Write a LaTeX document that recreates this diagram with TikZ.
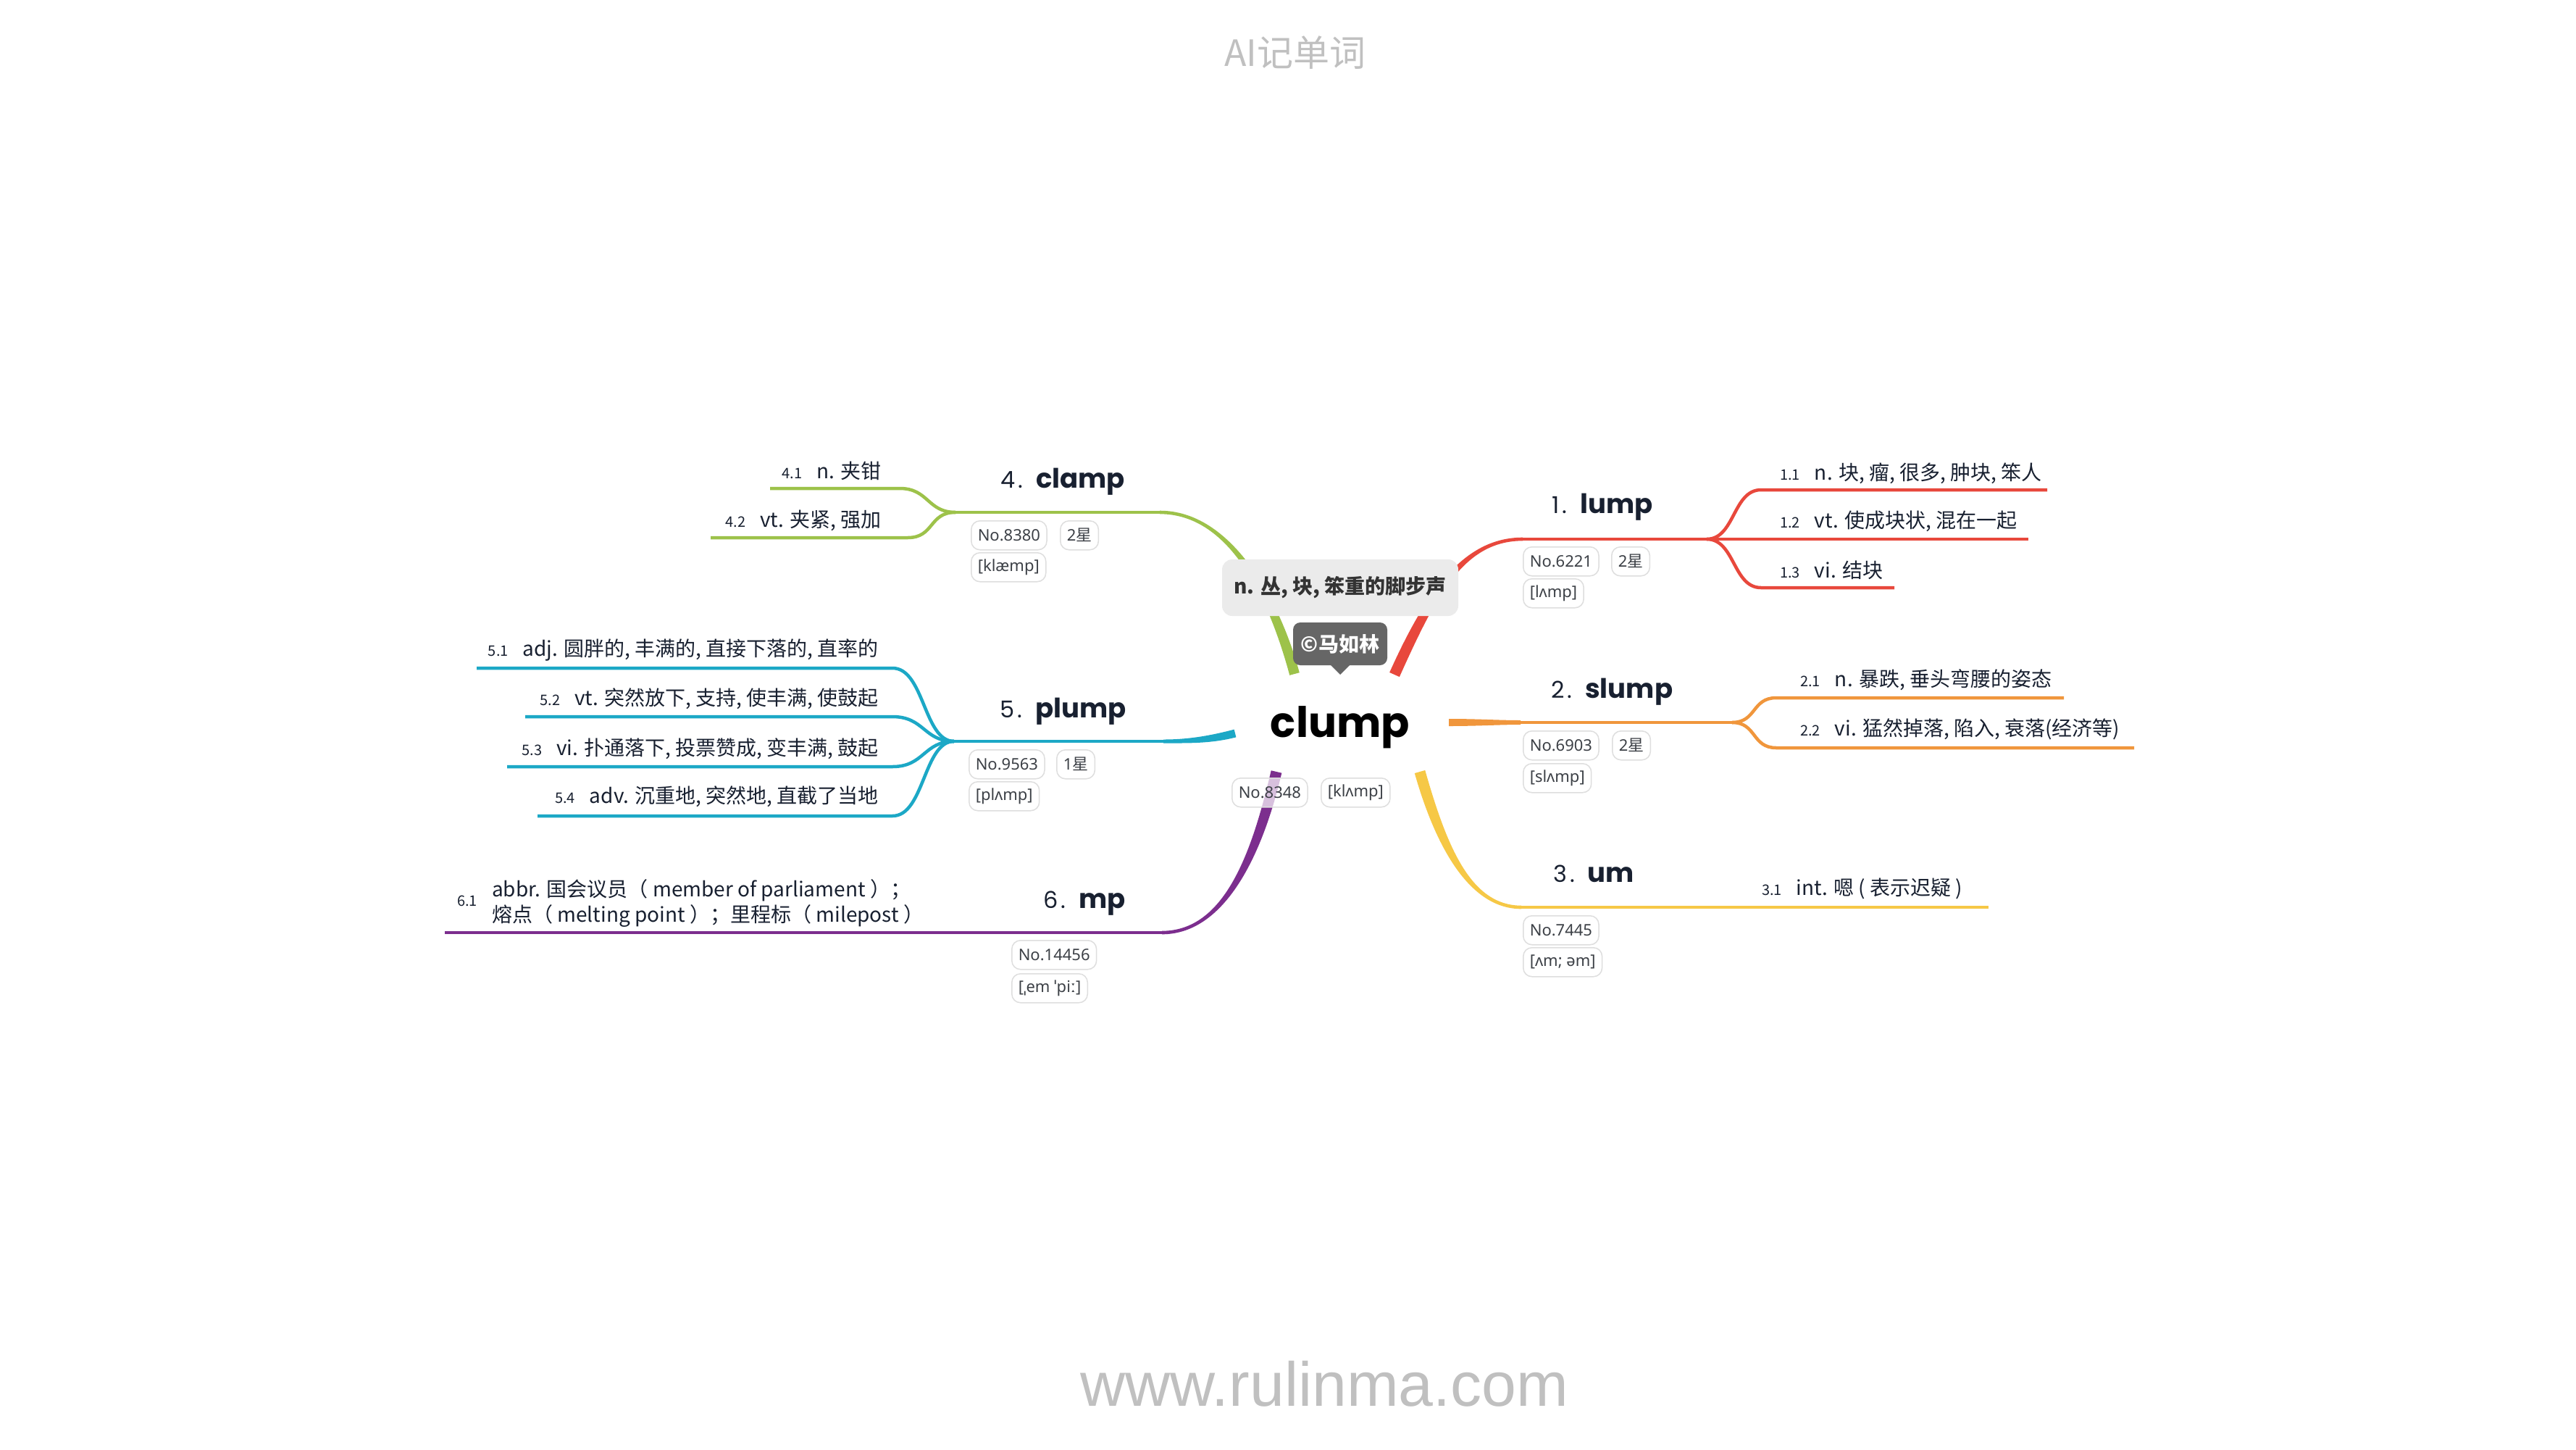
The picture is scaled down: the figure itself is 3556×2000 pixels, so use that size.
\documentclass[tikz,border=0pt]{standalone}
\usepackage{fontspec}
\setmainfont{Noto Sans CJK SC}
\newfontfamily\cjk{Noto Sans CJK SC}
\newfontfamily\pop{Poppins}
\newfontfamily\pillf{Noto Sans}
\newfontfamily\libs{Liberation Sans}
\usetikzlibrary{calc}
\definecolor{cred}{RGB}{232,72,60}
\definecolor{corange}{RGB}{240,150,60}
\definecolor{cyellow}{RGB}{246,200,70}
\definecolor{cgreen}{RGB}{157,194,74}
\definecolor{ccyan}{RGB}{28,168,198}
\definecolor{cpurple}{RGB}{124,46,142}
\definecolor{navy}{RGB}{24,32,48}
\definecolor{pillline}{RGB}{222,222,222}
\definecolor{pilltext}{RGB}{60,64,70}
\definecolor{defbg}{RGB}{235,235,235}
\definecolor{callbg}{RGB}{102,102,102}
\definecolor{wmark}{RGB}{192,192,192}
\newcommand\tapcon[7]{%
  \fill[#7] ($(#1)!#5!90:(#2)$) .. controls ($(#2)!#5!-90:(#1)$) and ($(#3)!#6!90:(#4)$) .. ($(#4)!#6!-90:(#3)$)
   -- ($(#4)!#6!90:(#3)$) .. controls ($(#3)!#6!-90:(#4)$) and ($(#2)!#5!90:(#1)$) .. ($(#1)!#5!-90:(#2)$) -- cycle;}
\newcommand\subnum[1]{{\fontsize{20pt}{22pt}\selectfont #1}\hspace{20pt}}
\newcommand\brnum[1]{{\pop\mdseries\fontsize{32pt}{34pt}\selectfont #1\hspace{4pt}.}\hspace{18pt}}
\tikzset{
  pillbox/.style={draw=pillline, line width=1.5pt, fill=white, rounded corners=12pt,
    minimum height=40pt, inner xsep=9pt, inner ysep=0pt, anchor=north west,
    font=\pillf\fontsize{22pt}{24pt}\selectfont, text=pilltext},
  subtext/.style={inner sep=0pt, text=navy, font=\cjk\fontsize{28pt}{32pt}\selectfont},
  ttl/.style={inner sep=0pt, text=navy, font=\pop\bfseries\fontsize{37pt}{40pt}\selectfont},
  uline/.style={line width=4.5pt},
}
\begin{document}
\begin{tikzpicture}[x=1pt,y=-1pt]
\fill[white] (0,0) rectangle (3556,2000);
\useasboundingbox (0,0) rectangle (3556,2000);

% watermark texts
\node[text=wmark, font=\cjk\fontsize{50pt}{54pt}\selectfont, inner sep=0pt] (title) at (1788,73) {AI记单词};
\node[text=wmark, font=\libs\fontsize{86pt}{90pt}\selectfont, inner sep=0pt, anchor=base] (footer) at (1828,1940) {www.rulinma.com};

% connector coordinates
\coordinate (r0) at (1925,931); \coordinate (r1) at (1975,820); \coordinate (r2) at (2020,744); \coordinate (r3) at (2102,744);
\coordinate (o0) at (2000,997); \coordinate (o1) at (2040,997); \coordinate (o2) at (2070,997); \coordinate (o3) at (2099,997);
\coordinate (yl0) at (1960,1065); \coordinate (yl1) at (1990,1170); \coordinate (yl2) at (2030,1252); \coordinate (yl3) at (2100,1252);
\coordinate (g0) at (1787,930); \coordinate (g1) at (1760,830); \coordinate (g2) at (1700,707); \coordinate (g3) at (1601,707);
\coordinate (c0) at (1705,1012); \coordinate (c1) at (1670,1021); \coordinate (c2) at (1640,1023); \coordinate (c3) at (1606,1023);
\coordinate (m0) at (1762,1065); \coordinate (m1) at (1735,1180); \coordinate (m2) at (1690,1287); \coordinate (m3) at (1604,1287);

\tapcon{r0}{r1}{r2}{r3}{7.5pt}{2.3pt}{cred}
\tapcon{o0}{o1}{o2}{o3}{5pt}{3pt}{corange}
\tapcon{yl0}{yl1}{yl2}{yl3}{7.5pt}{2.3pt}{cyellow}
\tapcon{g0}{g1}{g2}{g3}{7pt}{2.3pt}{cgreen}
\tapcon{c0}{c1}{c2}{c3}{5.5pt}{2.5pt}{ccyan}
\tapcon{m0}{m1}{m2}{m3}{7.5pt}{2.3pt}{cpurple}

% branch 1 (red)
\coordinate (j1) at (2356,744);
\coordinate (e11) at (2826,676); \coordinate (e12) at (2800,744); \coordinate (e13) at (2615,811);
\draw[uline,cred] (r3) -- (e12);
\draw[uline,cred] (j1) .. controls (2395,744) and (2392,676) .. (2431,676) -- (e11);
\draw[uline,cred] (j1) .. controls (2395,744) and (2392,811) .. (2431,811) -- (e13);

% branch 2 (orange)
\coordinate (j2) at (2391,997);
\coordinate (e21) at (2849,963); \coordinate (e22) at (2946,1032);
\draw[uline,corange] (o3) -- (j2);
\draw[uline,corange] (j2) .. controls (2425,997) and (2418,963) .. (2452,963) -- (e21);
\draw[uline,corange] (j2) .. controls (2425,997) and (2418,1032) .. (2452,1032) -- (e22);

% branch 3 (yellow)
\coordinate (e31) at (2745,1252);
\draw[uline,cyellow] (yl3) -- (e31);

% branch 4 (green)
\coordinate (j4) at (1319,707);
\coordinate (e41) at (1063,674); \coordinate (e42) at (981,742);
\draw[uline,cgreen] (g3) -- (j4);
\draw[uline,cgreen] (j4) .. controls (1280,707) and (1282,674) .. (1242,674) -- (e41);
\draw[uline,cgreen] (j4) .. controls (1282,707) and (1290,742) .. (1253,742) -- (e42);

% branch 5 (cyan)
\coordinate (j5) at (1317,1023);
\coordinate (e51) at (658,922); \coordinate (e52) at (725,989); \coordinate (e53) at (700,1058); \coordinate (e54) at (742,1126);
\draw[uline,ccyan] (c3) -- (j5);
\draw[uline,ccyan] (j5) .. controls (1275,1023) and (1276,922) .. (1232,922) -- (e51);
\draw[uline,ccyan] (j5) .. controls (1275,1023) and (1276,989) .. (1232,989) -- (e52);
\draw[uline,ccyan] (j5) .. controls (1275,1023) and (1276,1058) .. (1232,1058) -- (e53);
\draw[uline,ccyan] (j5) .. controls (1275,1023) and (1276,1126) .. (1232,1126) -- (e54);

% branch 6 (purple)
\coordinate (e61) at (614,1287);
\draw[uline,cpurple] (m3) -- (e61);

% central topic
\node[inner sep=0pt, text=black, font=\pop\bfseries\fontsize{58pt}{60pt}\selectfont, anchor=base] (root) at (1850,1017) {clump};
\node[fill=defbg, rounded corners=14pt, minimum width=326pt, minimum height=78pt, inner sep=0pt,
      text=black!80, font=\cjk\bfseries\fontsize{28pt}{30pt}\selectfont] (def) at (1850,811) {n. 丛, 块, 笨重的脚步声};
\node[fill=callbg, rounded corners=10pt, minimum width=130pt, minimum height=59pt, inner sep=0pt,
      text=white, font=\cjk\bfseries\fontsize{28pt}{30pt}\selectfont] (call) at (1850,888.5) {©马如林};
\coordinate (tipl) at (1836,917); \coordinate (tipr) at (1864,917); \coordinate (tip) at (1850,931);
\fill[callbg] (tipl) -- (tip) -- (tipr) -- cycle;
\node[pillbox, fill opacity=0.7, text opacity=1] (pc1) at (1700,1073) {No.8348};
\node[pillbox] (pc2) at (1823,1073) {[klʌmp]};

% branch titles
\node[ttl, anchor=base west] (t1) at (2142,708) {\brnum{1}lump};
\node[ttl, anchor=base west] (t2) at (2141,963) {\brnum{2}slump};
\node[ttl, anchor=base west] (t3) at (2144,1217) {\brnum{3}um};
\node[ttl, anchor=base east] (t4) at (1553,673) {\brnum{4}clamp};
\node[ttl, anchor=base east] (t5) at (1555,990) {\brnum{5}plump};
\node[ttl, anchor=base east] (t6) at (1554,1253) {\brnum{6}mp};

% pills
\node[pillbox] (p1a) at (2102,754) {No.6221};
\node[pillbox] (p1b) at (2224,754) {2{\cjk 星}\hspace{22pt}};
\node[pillbox] (p1c) at (2102,798) {[lʌmp]};
\node[pillbox] (p2a) at (2102,1008) {No.6903};
\node[pillbox] (p2b) at (2225,1008) {2{\cjk 星}\hspace{22pt}};
\node[pillbox] (p2c) at (2102,1053) {[slʌmp]};
\node[pillbox] (p3a) at (2102,1263) {No.7445};
\node[pillbox] (p3c) at (2102,1307) {[ʌm; əm]};
\node[pillbox] (p4a) at (1340,718) {No.8380};
\node[pillbox] (p4b) at (1463,718) {2{\cjk 星}\hspace{22pt}};
\node[pillbox] (p4c) at (1340,762) {[klæmp]};
\node[pillbox] (p5a) at (1337,1034) {No.9563};
\node[pillbox] (p5b) at (1458,1034) {1{\cjk 星}\hspace{22pt}};
\node[pillbox] (p5c) at (1337,1078) {[plʌmp]};
\node[pillbox] (p6a) at (1396,1297) {No.14456};
\node[pillbox] (p6c) at (1396,1343) {[ˌem ˈpiː]};

% sub items
\node[subtext, anchor=base west] (s11) at (2457,662) {\subnum{1.1}n. 块, 瘤, 很多, 肿块, 笨人};
\node[subtext, anchor=base west] (s12) at (2457,728) {\subnum{1.2}vt. 使成块状, 混在一起};
\node[subtext, anchor=base west] (s13) at (2457,797) {\subnum{1.3}vi. 结块};
\node[subtext, anchor=base west] (s21) at (2485,947) {\subnum{2.1}n. 暴跌, 垂头弯腰的姿态};
\node[subtext, anchor=base west] (s22) at (2485,1015) {\subnum{2.2}vi. 猛然掉落, 陷入, 衰落(经济等)};
\node[subtext, anchor=base west] (s31) at (2432,1235) {\subnum{3.1}int. 嗯 ( 表示迟疑 )};
\node[subtext, anchor=base east] (s41) at (1217,660) {\subnum{4.1}n. 夹钳};
\node[subtext, anchor=base east] (s42) at (1217,727) {\subnum{4.2}vt. 夹紧, 强加};
\node[subtext, anchor=base east] (s51) at (1213,905) {\subnum{5.1}adj. 圆胖的, 丰满的, 直接下落的, 直率的};
\node[subtext, anchor=base east] (s52) at (1213,973) {\subnum{5.2}vt. 突然放下, 支持, 使丰满, 使鼓起};
\node[subtext, anchor=base east] (s53) at (1213,1042) {\subnum{5.3}vi. 扑通落下, 投票赞成, 变丰满, 鼓起};
\node[subtext, anchor=base east] (s54) at (1213,1108) {\subnum{5.4}adv. 沉重地, 突然地, 直截了当地};
\node[subtext, anchor=base west, font=\cjk\fontsize{20pt}{22pt}\selectfont] (s61n) at (631,1250) {6.1};
\node[subtext, anchor=base west] (s61a) at (679,1237) {abbr. 国会议员（ member of parliament ）；};
\node[subtext, anchor=base west] (s61b) at (679,1272) {熔点（ melting point ）；里程标（ milepost ）};
\end{tikzpicture}
\end{document}
